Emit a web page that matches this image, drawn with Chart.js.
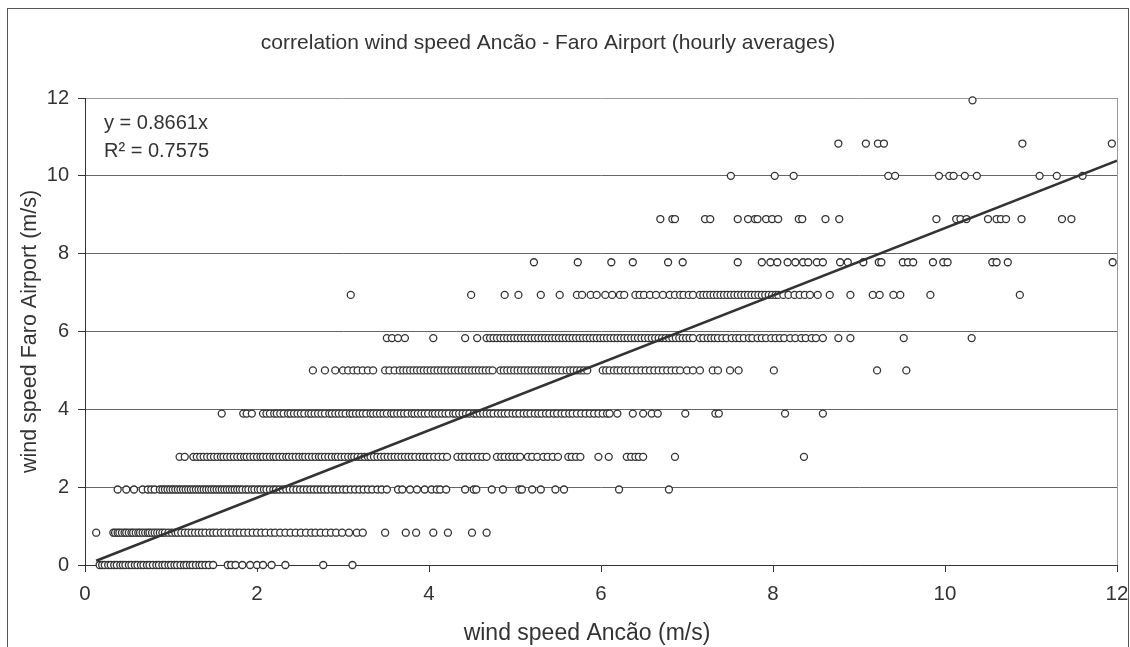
<!DOCTYPE html>
<html>
<head>
<meta charset="utf-8">
<script src="https://cdn.jsdelivr.net/npm/chart.js@4.4.0/dist/chart.umd.min.js"></script>
<style>
  html, body { margin: 0; padding: 0; background: #fff; }
  #wrap { width: 1130px; height: 647px; }
</style>
</head>
<body>
<div id="wrap"><canvas id="chart" width="1130" height="647"></canvas></div>
<script>
// ── Data ──────────────────────────────────────────────────────────────
// Faro Airport readings come in fixed steps, so the points sit on rows.
const faroLevels = [0, 0.83, 1.94, 2.78, 3.89, 5.0, 5.83, 6.94, 7.78, 8.89, 10.0, 10.83, 11.94];

// Ancão wind speed (x) of the points on each Faro row
const ancao_000 = [0.17,0.2,0.23,0.27,0.3,0.34,0.37,0.41,0.44,0.47,0.51,0.54,0.58,0.61,0.65,0.68,0.72,0.75,0.79,0.83,0.86,0.9,0.93,0.97,1.0,1.04,1.07,1.11,1.15,1.18,1.22,1.25,1.29,1.33,1.36,1.4,1.44,1.49,1.66,1.7,1.75,1.83,1.92,2.0,2.07,2.17,2.33,2.77,3.11];
const ancao_083 = [0.13,0.33,0.35,0.38,0.4,0.43,0.46,0.48,0.51,0.54,0.56,0.59,0.62,0.64,0.67,0.7,0.73,0.75,0.78,0.81,0.84,0.87,0.9,0.93,0.97,1.01,1.05,1.08,1.12,1.16,1.2,1.24,1.28,1.32,1.36,1.4,1.45,1.49,1.53,1.58,1.62,1.67,1.71,1.76,1.8,1.85,1.9,1.95,2.0,2.05,2.1,2.16,2.21,2.27,2.33,2.39,2.45,2.51,2.57,2.63,2.68,2.74,2.8,2.86,2.92,2.99,3.07,3.16,3.23,3.49,3.73,3.85,4.05,4.22,4.5,4.67];
const ancao_194 = [0.38,0.48,0.57,0.67,0.73,0.77,0.81,0.87,0.9,0.93,0.96,0.99,1.02,1.05,1.08,1.11,1.14,1.17,1.2,1.23,1.26,1.29,1.32,1.35,1.38,1.41,1.44,1.47,1.5,1.53,1.56,1.59,1.62,1.65,1.68,1.71,1.74,1.77,1.8,1.83,1.87,1.9,1.94,1.97,2.01,2.04,2.08,2.11,2.15,2.19,2.22,2.26,2.3,2.34,2.38,2.42,2.46,2.5,2.54,2.58,2.62,2.66,2.7,2.74,2.78,2.82,2.87,2.91,2.95,3.0,3.04,3.09,3.14,3.19,3.24,3.29,3.34,3.4,3.45,3.51,3.64,3.69,3.78,3.86,3.95,4.03,4.09,4.13,4.2,4.42,4.52,4.55,4.73,4.86,5.05,5.08,5.2,5.3,5.47,5.57,6.21,6.79];
const ancao_278 = [1.1,1.16,1.26,1.3,1.34,1.38,1.42,1.46,1.5,1.54,1.58,1.61,1.65,1.69,1.73,1.77,1.81,1.85,1.88,1.92,1.96,2.0,2.04,2.07,2.11,2.15,2.19,2.22,2.26,2.3,2.34,2.37,2.41,2.45,2.49,2.53,2.56,2.6,2.64,2.68,2.72,2.75,2.79,2.83,2.87,2.91,2.94,2.98,3.02,3.06,3.1,3.13,3.17,3.21,3.25,3.29,3.32,3.36,3.4,3.44,3.48,3.52,3.56,3.6,3.64,3.68,3.72,3.76,3.8,3.84,3.89,3.93,3.97,4.01,4.06,4.11,4.16,4.21,4.33,4.38,4.42,4.47,4.52,4.57,4.62,4.67,4.79,4.84,4.88,4.93,4.97,5.02,5.06,5.15,5.2,5.26,5.33,5.38,5.44,5.5,5.62,5.66,5.71,5.76,5.97,6.09,6.3,6.35,6.4,6.44,6.49,6.86,8.36];
const ancao_389 = [1.59,1.84,1.88,1.94,2.07,2.11,2.15,2.2,2.23,2.27,2.31,2.36,2.39,2.43,2.47,2.51,2.55,2.6,2.63,2.67,2.71,2.75,2.79,2.84,2.87,2.91,2.95,2.99,3.03,3.08,3.11,3.15,3.19,3.23,3.27,3.32,3.35,3.39,3.43,3.47,3.51,3.56,3.59,3.63,3.67,3.71,3.75,3.8,3.83,3.87,3.91,3.95,3.99,4.04,4.07,4.11,4.15,4.19,4.23,4.28,4.31,4.35,4.39,4.43,4.47,4.52,4.55,4.59,4.63,4.67,4.71,4.75,4.8,4.84,4.88,4.92,4.97,5.01,5.05,5.1,5.14,5.18,5.23,5.27,5.31,5.36,5.4,5.45,5.49,5.54,5.58,5.63,5.67,5.72,5.77,5.82,5.87,5.92,5.97,6.02,6.07,6.1,6.19,6.37,6.49,6.59,6.66,6.98,7.33,7.37,8.14,8.58];
const ancao_500 = [2.65,2.79,2.91,3.0,3.06,3.12,3.17,3.23,3.29,3.35,3.49,3.54,3.6,3.66,3.7,3.74,3.78,3.82,3.86,3.9,3.94,3.98,4.02,4.06,4.1,4.14,4.18,4.22,4.26,4.3,4.34,4.38,4.42,4.46,4.5,4.54,4.58,4.62,4.66,4.7,4.74,4.83,4.87,4.91,4.95,4.99,5.03,5.07,5.11,5.15,5.19,5.23,5.27,5.31,5.35,5.39,5.43,5.47,5.51,5.55,5.6,5.64,5.68,5.72,5.76,5.8,5.84,6.02,6.06,6.1,6.15,6.19,6.23,6.28,6.32,6.37,6.42,6.47,6.52,6.57,6.62,6.67,6.72,6.77,6.82,6.87,6.92,7.0,7.07,7.15,7.3,7.36,7.5,7.6,8.01,9.21,9.55];
const ancao_583 = [3.51,3.57,3.64,3.72,4.05,4.42,4.56,4.67,4.71,4.75,4.79,4.83,4.87,4.91,4.95,4.99,5.03,5.07,5.11,5.15,5.19,5.23,5.27,5.31,5.35,5.39,5.43,5.47,5.51,5.55,5.59,5.63,5.67,5.71,5.75,5.79,5.83,5.87,5.91,5.95,5.99,6.03,6.07,6.11,6.15,6.19,6.23,6.27,6.31,6.35,6.39,6.43,6.47,6.51,6.55,6.59,6.63,6.67,6.71,6.75,6.79,6.83,6.87,6.91,6.95,6.99,7.03,7.07,7.15,7.19,7.24,7.28,7.32,7.36,7.41,7.46,7.52,7.57,7.61,7.66,7.72,7.76,7.82,7.87,7.92,7.98,8.03,8.08,8.13,8.2,8.26,8.33,8.38,8.45,8.5,8.58,8.76,8.9,9.52,10.31];
const ancao_694 = [3.09,4.49,4.88,5.04,5.3,5.52,5.72,5.78,5.88,5.95,6.05,6.13,6.22,6.27,6.4,6.45,6.5,6.57,6.64,6.72,6.8,6.86,6.92,6.96,7.02,7.07,7.15,7.19,7.23,7.27,7.31,7.35,7.39,7.43,7.47,7.51,7.55,7.59,7.63,7.67,7.71,7.75,7.79,7.83,7.87,7.91,7.95,7.99,8.03,8.06,8.12,8.18,8.25,8.31,8.37,8.43,8.52,8.66,8.9,9.16,9.24,9.4,9.48,9.83,10.87];
const ancao_778 = [5.22,5.73,6.12,6.37,6.78,6.95,7.59,7.87,7.97,8.05,8.17,8.26,8.35,8.41,8.51,8.58,8.78,8.87,9.05,9.23,9.26,9.51,9.57,9.63,9.86,9.98,10.03,10.55,10.6,10.73,11.95];
const ancao_889 = [6.69,6.83,6.86,7.21,7.27,7.59,7.71,7.79,7.82,7.92,7.99,8.06,8.3,8.34,8.61,8.77,9.9,10.13,10.18,10.25,10.5,10.6,10.65,10.71,10.89,11.36,11.47];
const ancao_1000 = [7.51,8.02,8.24,9.34,9.42,9.93,10.05,10.1,10.23,10.37,11.1,11.3,11.6];
const ancao_1083 = [8.76,9.08,9.22,9.29,10.9,11.94];
const ancao_1194 = [10.32];

const ancaoByLevel = [ancao_000, ancao_083, ancao_194, ancao_278, ancao_389, ancao_500,
  ancao_583, ancao_694, ancao_778, ancao_889, ancao_1000, ancao_1083, ancao_1194];

// Linear trendline through the origin (y = 0.8661x)
const trendX = [0.13, 12];
const trendY = [0.11, 10.39];

const axisTicks = [0, 2, 4, 6, 8, 10, 12];

const FONT = "'Liberation Sans', Arial, sans-serif";
const INK = '#333';

// ── Build points ──────────────────────────────────────────────────────
const scatterPoints = [];
faroLevels.forEach((lv, i) => {
  ancaoByLevel[i].forEach(x => scatterPoints.push({ x, y: lv }));
});
const trendPoints = trendX.map((x, i) => ({ x, y: trendY[i] }));

// ── Frame, titles, right border and equation box ─────────────────────
const decor = {
  id: 'decor',
  beforeDraw(chart) {
    const c = chart.ctx;
    c.save();
    c.fillStyle = '#fff';
    c.fillRect(0, 0, chart.width, chart.height);
    c.strokeStyle = '#555';
    c.lineWidth = 1;
    c.strokeRect(7.5, 8.5, 1121, 700);
    c.fillStyle = INK;
    c.textAlign = 'center';
    c.textBaseline = 'middle';
    c.font = `21px ${FONT}`;
    c.fillText('correlation wind speed Ancão - Faro Airport (hourly averages)', 548, 43);
    c.font = `23px ${FONT}`;
    c.fillText('wind speed Ancão (m/s)', 587, 634);
    c.restore();
  },
  afterDraw(chart) {
    const { ctx: c, chartArea: a } = chart;
    c.save();
    c.strokeStyle = '#9a9a9a';
    c.lineWidth = 1;
    c.beginPath();
    c.moveTo(Math.round(a.right) + 0.5, a.top);
    c.lineTo(Math.round(a.right) + 0.5, a.bottom);
    c.stroke();
    c.fillStyle = INK;
    c.font = `20px ${FONT}`;
    c.textBaseline = 'middle';
    c.fillText('y = 0.8661x', 104, 123);
    c.fillText('R² = 0.7575', 104, 151);
    c.restore();
  }
};

// ── Chart ─────────────────────────────────────────────────────────────
new Chart(document.getElementById('chart').getContext('2d'), {
  type: 'scatter',
  data: {
    datasets: [
      {
        type: 'line',
        data: trendPoints,
        borderColor: INK,
        borderWidth: 2.6,
        pointRadius: 0,
        fill: false,
        order: 0
      },
      {
        data: scatterPoints,
        pointRadius: 3.5,
        pointBorderWidth: 1.3,
        borderColor: INK,
        backgroundColor: '#fff',
        clip: false,
        order: 1
      }
    ]
  },
  options: {
    responsive: false,
    animation: false,
    events: [],
    layout: { padding: { left: 12, right: 13, top: 98, bottom: 0 } },
    plugins: {
      legend: { display: false },
      tooltip: { enabled: false },
      title: { display: false }
    },
    scales: {
      x: {
        type: 'linear',
        min: 0,
        max: 12,
        afterBuildTicks: s => { s.ticks = axisTicks.map(v => ({ value: v })); },
        afterFit: s => { s.height = 82; s.paddingLeft = 0; s.paddingRight = 0; },
        ticks: { color: INK, font: { family: FONT, size: 20.5 }, padding: 10, maxRotation: 0 },
        grid: { drawOnChartArea: false, tickLength: 7, tickColor: INK },
        border: { color: INK, width: 1 },
        title: { display: false }
      },
      y: {
        type: 'linear',
        min: 0,
        max: 12,
        afterBuildTicks: s => { s.ticks = axisTicks.map(v => ({ value: v })); },
        afterFit: s => { s.width = 73; s.paddingTop = 0; s.paddingBottom = 0; },
        ticks: { color: INK, font: { family: FONT, size: 20 }, padding: 9 },
        grid: {
          color: c => (c.tick && c.tick.value === 12) ? '#9a9a9a' : '#666',
          tickLength: 7,
          tickColor: INK,
          lineWidth: 1
        },
        border: { color: INK, width: 1 },
        title: {
          display: true,
          text: 'wind speed Faro Airport (m/s)',
          color: INK,
          font: { family: FONT, size: 21.5 },
          padding: { top: 5, bottom: 0 }
        }
      }
    }
  },
  plugins: [decor]
});
</script>
</body>
</html>
